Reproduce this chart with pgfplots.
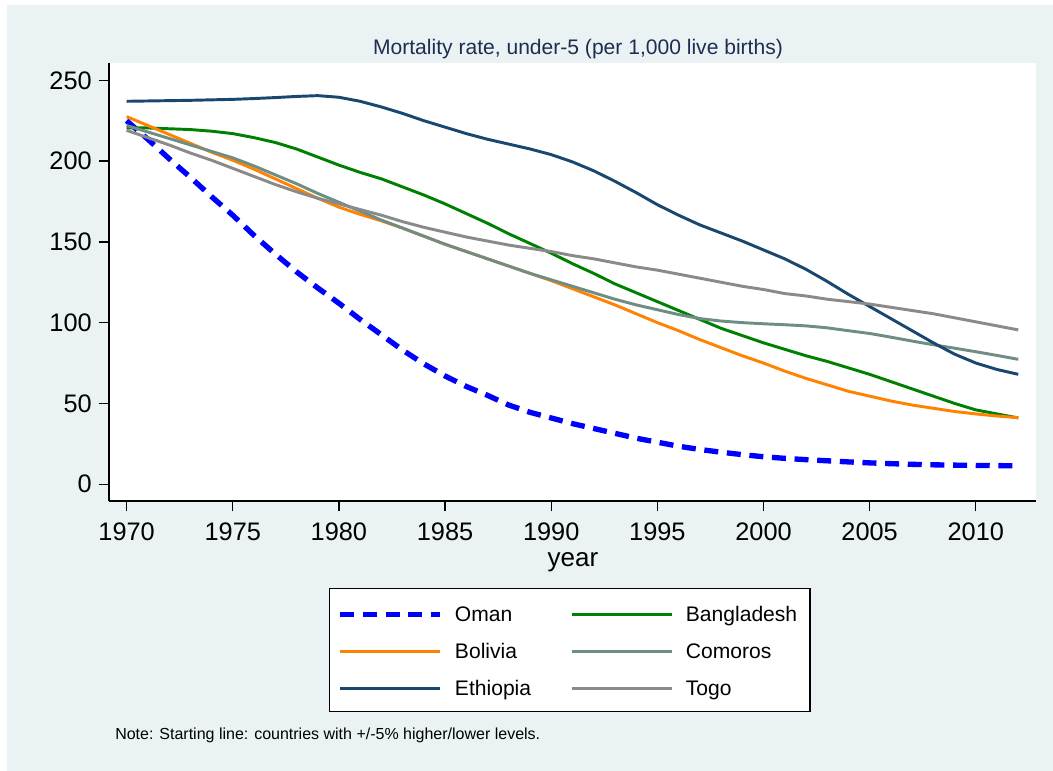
\documentclass[border=0pt]{standalone}
\usepackage{pgfplots}
\usepackage{pgfplotstable}
\pgfplotsset{compat=1.18}
\usepackage{fontspec}
\setmainfont{Liberation Sans}
\definecolor{bgcol}{RGB}{234,242,243}
\definecolor{titlecol}{RGB}{30,45,80}
\definecolor{cOman}{RGB}{0,0,255}
\definecolor{cBang}{RGB}{0,128,0}
\definecolor{cBol}{RGB}{255,130,0}
\definecolor{cCom}{RGB}{110,142,132}
\definecolor{cEth}{RGB}{26,71,111}
\definecolor{cTogo}{RGB}{138,138,138}

\pgfplotstableread{
year oman bang bol com eth togo
1970 225   220.5 227.5 222   237   219
1971 213.5 220.5 222   218   237.2 214.5
1972 201.5 220   216.5 214   237.4 210
1973 190   219.5 211   210   237.6 205
1974 178   218.5 205.5 206   237.9 200.5
1975 166.5 217   200.5 202   238.2 195.5
1976 154   214.5 195   197   238.7 190.5
1977 142.5 211.5 189   191.5 239.3 185.5
1978 131.5 207.5 183   186   240   181
1979 121.5 202.5 177   180   240.5 177
1980 112   197.5 171.5 174.5 239.5 173.5
1981 102   193   167   169   237   170
1982 92.5  189   163   163.5 233.5 166.5
1983 83    184   158.5 158.5 229.5 162.5
1984 74.5  179   153.5 153.5 225   159
1985 67    173.5 148.5 148.5 221   156
1986 60.5  167.5 144   144   217   153
1987 55    161.5 139.5 139.5 213.5 150.5
1988 49    155   135   135   210.5 148
1989 44.5  149   130.5 130.5 207.5 146
1990 41    143   126   126.5 204   144
1991 37.5  136.5 121   122.5 199.5 141.5
1992 34.5  130.5 116   118.5 194   139.5
1993 31.5  124   111   114.5 187.5 137
1994 28.5  118.5 105.5 111   180.5 134.5
1995 26    113   100   108   173   132.5
1996 23.5  107.5 95    105   166.5 130
1997 21.5  102   89.5  102.5 160.5 127.5
1998 19.8  96.5  84.5  101   155.5 125
1999 18.3  92    79.5  100   150.5 122.5
2000 17    87.5  75    99.3  145   120.5
2001 16    83.5  70    98.7  139.5 118
2002 15.2  79.5  65.5  98    133   116.5
2003 14.5  76    61.5  96.8  125.5 114.5
2004 13.8  72    57.5  95    117.5 113
2005 13.2  68    54.5  93.3  110   111.5
2006 12.7  63.5  51.5  91    102.5 109.5
2007 12.3  59    49    88.6  95    107.5
2008 12    54.5  47    86.3  87.5  105.5
2009 11.8  50    45    84.2  80.5  103
2010 11.6  46    43.5  82    75    100.5
2011 11.5  43.5  42.2  79.7  71    98
2012 11.4  41    41.2  77.3  68    95.5
}\datatable

\begin{document}
\begin{tikzpicture}[x=0.75pt,y=-0.75pt]
\fill[white] (0,0) rectangle (1053,771);
\fill[bgcol] (7,5) rectangle (1053,771);
\begin{axis}[
  at={(81.75pt,-375.75pt)}, anchor=south west,
  scale only axis, width=695pt, height=328.5pt,
  xmin=1969.17, xmax=2012.82, ymin=-10.4, ymax=260.7,
  axis x line*=bottom, axis y line*=left,
  axis line style={black, line width=1pt, -},
  axis background/.style={fill=white},
  xtick={1970,1975,...,2010}, ytick={0,50,...,250},
  tick align=outside, major tick length=7.5pt,
  tick style={black, line width=1pt},
  /pgf/number format/assume math mode=true,
  /pgf/number format/1000 sep={},
  ticklabel style={font=\fontsize{19}{22}\selectfont},
  xticklabel style={anchor=north, inner sep=0pt, yshift=-9pt},
  yticklabel style={anchor=east, inner sep=0pt, xshift=-5.25pt},
  legend columns=2,
  legend image code/.code={\draw[#1, line cap=butt] (0pt,5.6pt) -- (75pt,5.6pt);},
  legend style={at={(0.2374,-0.1986)}, anchor=north west, draw=black, line width=1pt, fill=white,
    inner xsep=6pt, inner ysep=6pt, /tikz/column sep=0pt, /tikz/row sep=3pt,
    cells={anchor=base west},
    nodes={inner sep=0pt, text width=87pt, align=left, text height=18.75pt, text depth=6pt, font=\fontsize{15.8}{18}\selectfont},
    /tikz/every odd column/.append style={column sep=9pt}},
  every axis plot/.append style={line join=round},
]
\addplot[cOman, line width=4pt, dash pattern=on 10.5pt off 6.5pt] table[x=year,y=oman] {\datatable};
\addlegendentry{Oman}
\addplot[cBang, line width=2.2pt] table[x=year,y=bang] {\datatable};
\addlegendentry{Bangladesh}
\addplot[cBol, line width=2.2pt] table[x=year,y=bol] {\datatable};
\addlegendentry{Bolivia}
\addplot[cCom, line width=2.2pt] table[x=year,y=com] {\datatable};
\addlegendentry{Comoros}
\addplot[cEth, line width=2.2pt] table[x=year,y=eth] {\datatable};
\addlegendentry{Ethiopia}
\addplot[cTogo, line width=2.2pt] table[x=year,y=togo] {\datatable};
\addlegendentry{Togo}
\end{axis}
\node[anchor=base, font=\fontsize{15.8}{18}\selectfont, text=titlecol, inner sep=0pt] at (578,54) {Mortality rate, under-5 (per 1,000 live births)};
\node[anchor=base, font=\fontsize{19.5}{22}\selectfont, inner sep=0pt] at (573,566.7) {year};
\node[anchor=base west, font=\fontsize{12}{14}\selectfont, inner sep=0pt] at (115,739.3) {Note: Starting line: countries with +/-5\% higher/lower levels.};
\end{tikzpicture}
\end{document}
